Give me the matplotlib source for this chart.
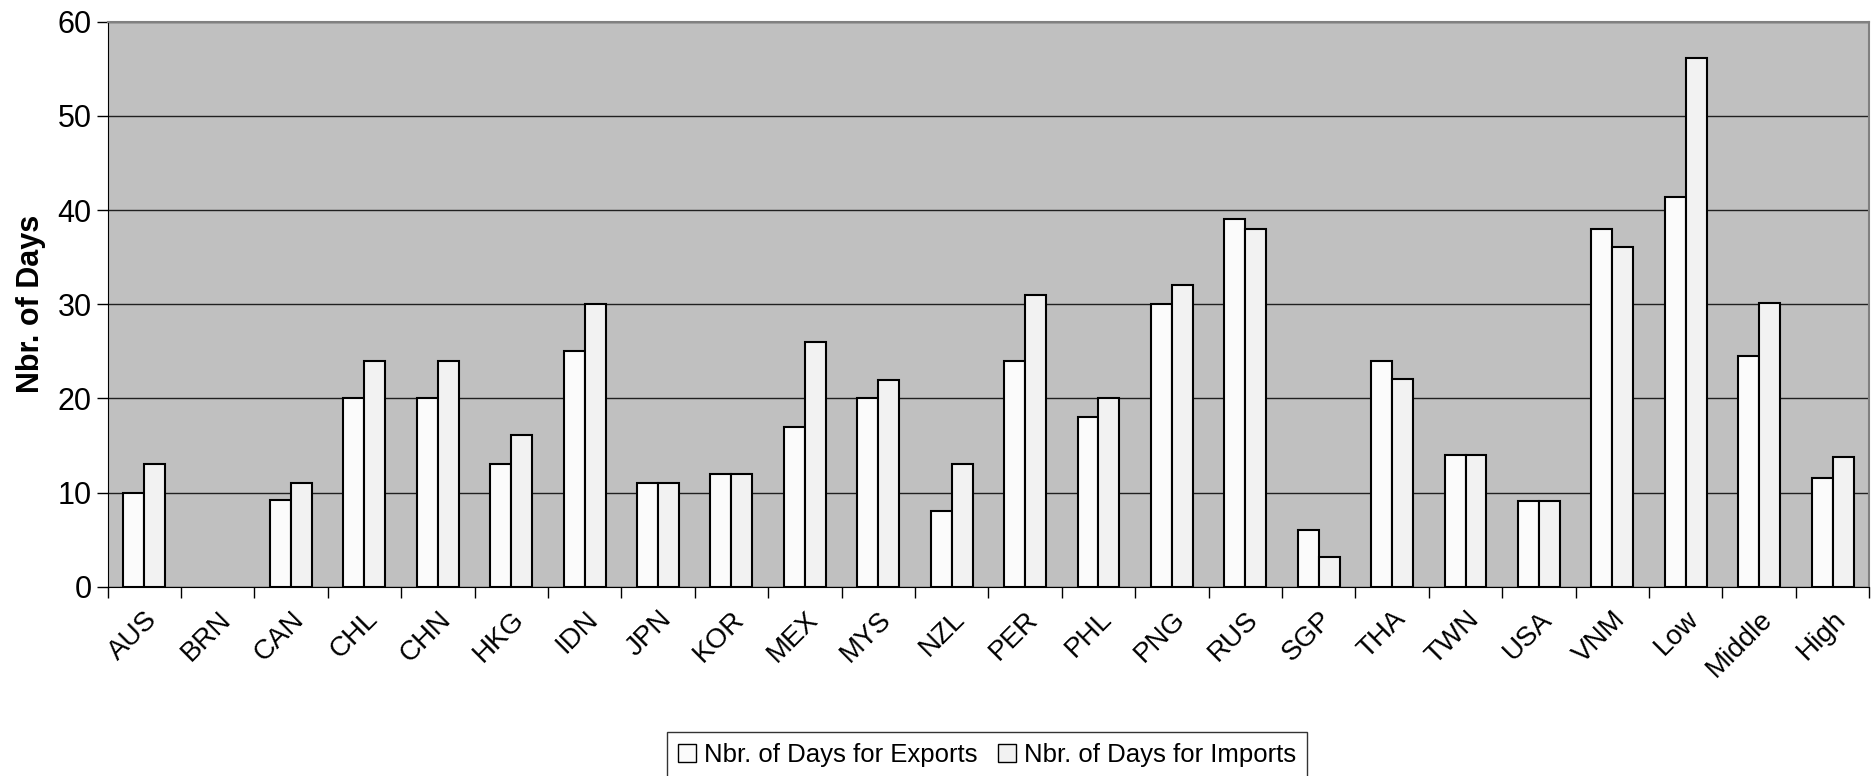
import matplotlib
matplotlib.use("Agg")
import matplotlib.pyplot as plt
import numpy as np

# values (BRN has no data)
countries = ["AUS", "BRN", "CAN", "CHL", "CHN", "HKG", "IDN", "JPN", "KOR", "MEX",
             "MYS", "NZL", "PER", "PHL", "PNG", "RUS", "SGP", "THA", "TWN", "USA",
             "VNM", "Low", "Middle", "High"]
exports = [10, np.nan, 9.2, 20, 20, 13, 25, 11, 12, 17,
           20, 8, 24, 18, 30, 39, 6, 24, 14, 9.1,
           38, 41.4, 24.5, 11.5]
imports = [13, np.nan, 11, 24, 24, 16.1, 30, 11, 12, 26,
           22, 13, 31, 20, 32, 38, 3.1, 22.1, 14, 9.1,
           36.1, 56.1, 30.1, 13.8]

plt.rcParams["font.family"] = ["Liberation Sans Narrow", "Liberation Sans", "DejaVu Sans"]

fig = plt.figure(figsize=(18.73, 7.76), dpi=100)
ax = fig.add_axes([0.0574, 0.244, 0.9406, 0.728])
ax.set_facecolor("#C0C0C0")

x = np.arange(len(countries))
w = 1 / 3.5
ax.bar(x - w / 2, exports, w, color="#FBFBFB", edgecolor="black", linewidth=1.5,
       label="Nbr. of Days for Exports", zorder=3)
ax.bar(x + w / 2, imports, w, color="#F2F2F2", edgecolor="black", linewidth=1.5,
       label="Nbr. of Days for Imports", zorder=3)

ax.set_xlim(-0.5, len(countries) - 0.5)
ax.set_ylim(0, 60)
ax.set_yticks(range(0, 61, 10))
ax.tick_params(axis="y", labelsize=22, length=8, width=1, direction="out")
ax.yaxis.grid(True, color="#202020", linewidth=1, zorder=1)
ax.set_axisbelow(True)

# ticks between categories, labels at centres
ax.set_xticks(np.arange(-0.5, len(countries), 1))
ax.set_xticklabels([])
ax.set_xticks(x, minor=True)
ax.set_xticklabels(countries, minor=True, rotation=45, ha="right",
                   rotation_mode="anchor", fontsize=20)
ax.tick_params(axis="x", which="major", length=8, width=1, direction="out")
ax.tick_params(axis="x", which="minor", length=0, pad=14)

for s in ["top", "right"]:
    ax.spines[s].set_color("#808080")
    ax.spines[s].set_linewidth(1.5)
ax.spines["left"].set_color("black")
ax.spines["bottom"].set_color("black")

ax.set_ylabel("Nbr. of Days", fontsize=22, fontweight="bold",
              family=["Liberation Sans", "DejaVu Sans"], labelpad=8)

leg = fig.legend(loc="lower center", bbox_to_anchor=(0.527, -0.02), ncol=2,
                 fontsize=18.5, frameon=True, fancybox=False, edgecolor="black",
                 handlelength=0.7, handleheight=0.7, handletextpad=0.3,
                 columnspacing=0.8, borderpad=0.45)
leg.get_frame().set_linewidth(1)
for h in leg.legend_handles:
    h.set_linewidth(1)

fig.savefig("out.png", dpi=100)
